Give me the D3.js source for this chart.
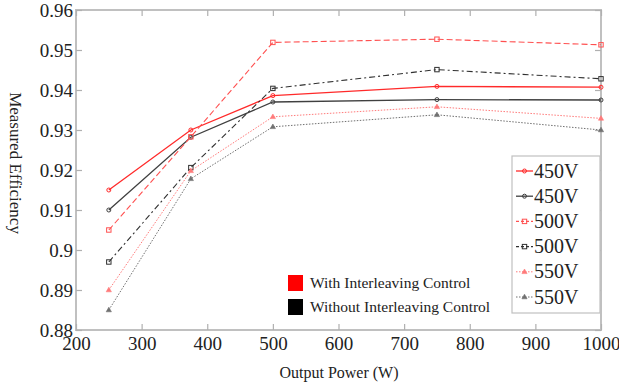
<!DOCTYPE html>
<html>
<head>
<meta charset="utf-8">
<script src="https://cdn.jsdelivr.net/npm/d3@7"></script>
<style>
  body { margin: 0; background: #fff; }
</style>
</head>
<body>
<svg id="chart" width="619" height="389"></svg>
<script>
// data
const powers = [250, 375, 500, 750, 1000];
const red450 = [0.915, 0.9300, 0.9386, 0.9409, 0.9407];
const blk450 = [0.910, 0.9282, 0.9370, 0.9376, 0.9375];
const red500 = [0.905, 0.9283, 0.9519, 0.9527, 0.9513];
const blk500 = [0.897, 0.9206, 0.9404, 0.9451, 0.9428];
const red550 = [0.890, 0.9198, 0.9333, 0.9358, 0.9329];
const blk550 = [0.885, 0.9178, 0.9308, 0.9338, 0.9300];
const xTicks = [200, 300, 400, 500, 600, 700, 800, 900, 1000];
const yTicks = [0.88, 0.89, 0.9, 0.91, 0.92, 0.93, 0.94, 0.95, 0.96];
const seriesNames = ["450V", "450V", "500V", "500V", "550V", "550V"];
const groupNames = ["With Interleaving Control", "Without Interleaving Control"];

const FONT = "'Liberation Serif', 'Times New Roman', Times, 'DejaVu Serif', serif";

const series = [
  { vals: red450, color: "#ff2a2a", dash: null, mark: "circle", w: 1.3 },
  { vals: blk450, color: "#404040", dash: null, mark: "circle", w: 1.3 },
  { vals: red500, color: "#ff5050", dash: "6,3", mark: "square", w: 1.1 },
  { vals: blk500, color: "#303030", dash: "6,3,2,3", mark: "square", w: 1.1 },
  { vals: red550, color: "#ff7a7a", dash: "1.5,1.5", mark: "triangle", w: 1 },
  { vals: blk550, color: "#707070", dash: "1.5,1.5", mark: "triangle", w: 1 }
];

const svg = d3.select("#chart");
const m = { left: 76, right: 601, top: 10, bottom: 330 };

const x = d3.scaleLinear().domain([200, 1000]).range([m.left, m.right]);
const y = d3.scaleLinear().domain([0.88, 0.96]).range([m.bottom, m.top]);

// frame
svg.append("rect")
  .attr("x", m.left).attr("y", m.top)
  .attr("width", m.right - m.left).attr("height", m.bottom - m.top)
  .attr("fill", "none").attr("stroke", "#c0c0c0").attr("stroke-width", 2);

// axes with inward ticks
const axStyle = g => {
  g.attr("font-family", FONT);
  g.select(".domain").remove();
  g.selectAll(".tick line").attr("stroke", "#b0b0b0").attr("stroke-width", 1.2);
  g.selectAll(".tick text").attr("fill", "#222").attr("font-size", 19)
    .attr("font-family", FONT);
};

svg.append("g").attr("transform", `translate(0,${m.bottom})`)
  .call(d3.axisBottom(x).tickValues(xTicks).tickSize(-6).tickPadding(7).tickFormat(d3.format("d")))
  .call(axStyle);
svg.append("g").attr("transform", `translate(0,${m.top})`)
  .call(d3.axisTop(x).tickValues(xTicks).tickSize(-6).tickFormat(""))
  .call(axStyle);
svg.append("g").attr("transform", `translate(${m.left},0)`)
  .call(d3.axisLeft(y).tickValues(yTicks).tickSize(-6).tickPadding(3).tickFormat(d => d3.format("")(+d.toFixed(2))))
  .call(axStyle);
svg.append("g").attr("transform", `translate(${m.right},0)`)
  .call(d3.axisRight(y).tickValues(yTicks).tickSize(-6).tickFormat(""))
  .call(axStyle);

// axis titles
svg.append("text")
  .attr("transform", `translate(10,163) rotate(90)`)
  .attr("text-anchor", "middle").attr("font-size", 17).attr("fill", "#222")
  .attr("font-family", FONT)
  .text("Measured Efficiency");
svg.append("text")
  .attr("x", 339).attr("y", 378)
  .attr("text-anchor", "middle").attr("font-size", 16).attr("fill", "#222")
  .attr("font-family", FONT)
  .text("Output Power (W)");

const line = d3.line().x((d, i) => x(powers[i])).y(d => y(d));

function marker(g, type, cx, cy, color) {
  if (type === "circle") {
    g.append("circle").attr("cx", cx).attr("cy", cy).attr("r", 2)
      .attr("fill", "none").attr("stroke", color).attr("stroke-width", 1);
  } else if (type === "square") {
    g.append("rect").attr("x", cx - 2.2).attr("y", cy - 2.2).attr("width", 4.4).attr("height", 4.4)
      .attr("fill", "none").attr("stroke", color).attr("stroke-width", 1);
  } else {
    g.append("path").attr("d", `M${cx},${cy - 2.8}L${cx + 2.6},${cy + 1.8}L${cx - 2.6},${cy + 1.8}Z`)
      .attr("fill", color).attr("stroke", color).attr("stroke-width", 0.6);
  }
}

const plot = svg.append("g");
series.forEach(s => {
  plot.append("path").datum(s.vals)
    .attr("d", line).attr("fill", "none")
    .attr("stroke", s.color).attr("stroke-width", s.w)
    .attr("stroke-dasharray", s.dash);
  s.vals.forEach((v, i) => marker(plot, s.mark, x(powers[i]), y(v), s.color));
});

// series legend
const lg = svg.append("g");
lg.append("rect").attr("x", 512).attr("y", 156).attr("width", 88).attr("height", 157)
  .attr("fill", "#fff").attr("stroke", "#c0c0c0").attr("stroke-width", 1.2);
series.forEach((s, i) => {
  const yy = 171 + i * 25.2;
  lg.append("line").attr("x1", 516).attr("x2", 533).attr("y1", yy).attr("y2", yy)
    .attr("stroke", s.color).attr("stroke-width", s.w)
    .attr("stroke-dasharray", s.dash ? (s.dash === "1.5,1.5" ? "1.5,1.5" : "3,2") : null);
  marker(lg, s.mark, 524.5, yy, s.color);
  lg.append("text").attr("x", 534).attr("y", yy + 6.5)
    .attr("font-size", 20).attr("fill", "#222").attr("font-family", FONT)
    .text(seriesNames[i]);
});

// group legend
const gl = svg.append("g");
["#ff0000", "#000000"].forEach((c, i) => {
  const yy = 275 + i * 24;
  gl.append("rect").attr("x", 288).attr("y", yy).attr("width", 15).attr("height", 16).attr("fill", c);
  gl.append("text").attr("x", 310).attr("y", yy + 13)
    .attr("font-size", 15.5).attr("fill", "#222").attr("font-family", FONT)
    .text(groupNames[i]);
});
</script>
</body>
</html>
